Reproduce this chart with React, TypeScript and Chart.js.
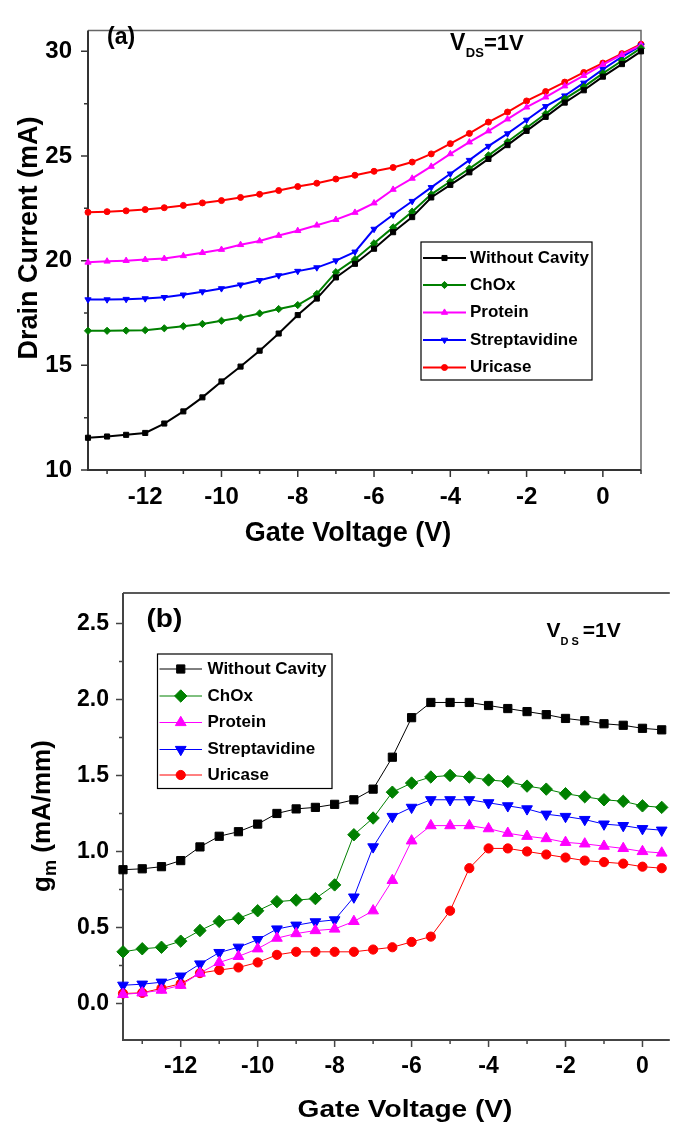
import React, { useEffect, useRef } from 'react';
import { Chart, registerables } from 'chart.js';
import { drawPoint } from 'chart.js/helpers';

Chart.register(...registerables);

const FONT = '"Liberation Sans", Arial, Helvetica, sans-serif';

// ---------- data ----------
const gateVoltageA = [-13.5, -13, -12.5, -12, -11.5, -11, -10.5, -10, -9.5, -9, -8.5, -8, -7.5, -7, -6.5, -6, -5.5, -5, -4.5, -4, -3.5, -3, -2.5, -2, -1.5, -1, -0.5, 0, 0.5, 1];
const gateVoltageB = [-13.5, -13, -12.5, -12, -11.5, -11, -10.5, -10, -9.5, -9, -8.5, -8, -7.5, -7, -6.5, -6, -5.5, -5, -4.5, -4, -3.5, -3, -2.5, -2, -1.5, -1, -0.5, 0, 0.5];

const withoutCavityA = [11.54, 11.6, 11.68, 11.77, 12.22, 12.8, 13.47, 14.23, 14.94, 15.7, 16.52, 17.4, 18.19, 19.2, 19.85, 20.57, 21.36, 22.08, 23.02, 23.62, 24.22, 24.86, 25.52, 26.2, 26.87, 27.55, 28.14, 28.79, 29.39, 30.0];
const chOxA = [16.65, 16.65, 16.66, 16.68, 16.77, 16.87, 16.98, 17.13, 17.28, 17.48, 17.69, 17.88, 18.41, 19.45, 20.07, 20.83, 21.59, 22.34, 23.17, 23.78, 24.4, 25.03, 25.68, 26.35, 27.02, 27.73, 28.3, 28.95, 29.55, 30.15];
const proteinA = [19.92, 19.97, 20.0, 20.05, 20.1, 20.23, 20.38, 20.53, 20.76, 20.94, 21.2, 21.43, 21.69, 21.96, 22.3, 22.75, 23.4, 23.93, 24.5, 25.1, 25.66, 26.19, 26.76, 27.33, 27.81, 28.34, 28.84, 29.37, 29.84, 30.3];
const streptavidineA = [18.14, 18.14, 18.16, 18.19, 18.25, 18.37, 18.52, 18.67, 18.85, 19.06, 19.29, 19.5, 19.67, 20.0, 20.42, 21.51, 22.19, 22.84, 23.5, 24.15, 24.8, 25.47, 26.07, 26.72, 27.37, 27.88, 28.49, 29.14, 29.74, 30.27];
const uricaseA = [22.31, 22.34, 22.38, 22.44, 22.53, 22.64, 22.76, 22.87, 23.02, 23.17, 23.35, 23.54, 23.7, 23.9, 24.08, 24.27, 24.45, 24.71, 25.1, 25.59, 26.08, 26.62, 27.1, 27.63, 28.08, 28.53, 28.99, 29.44, 29.89, 30.34];

const withoutCavityB = [0.88, 0.886, 0.9, 0.94, 1.03, 1.1, 1.13, 1.18, 1.25, 1.28, 1.29, 1.31, 1.34, 1.41, 1.62, 1.88, 1.98, 1.98, 1.98, 1.96, 1.94, 1.92, 1.9, 1.875, 1.86, 1.84, 1.83, 1.81, 1.8];
const chOxB = [0.34, 0.36, 0.37, 0.41, 0.48, 0.54, 0.56, 0.61, 0.67, 0.68, 0.69, 0.78, 1.11, 1.22, 1.39, 1.45, 1.49, 1.5, 1.49, 1.47, 1.46, 1.43, 1.41, 1.38, 1.36, 1.34, 1.33, 1.3, 1.29];
const proteinB = [0.06, 0.07, 0.088, 0.12, 0.2, 0.27, 0.31, 0.36, 0.43, 0.46, 0.48, 0.49, 0.54, 0.61, 0.81, 1.07, 1.17, 1.17, 1.17, 1.15, 1.12, 1.1, 1.085, 1.06, 1.05, 1.035, 1.02, 1.0, 0.99];
const streptavidineB = [0.12, 0.127, 0.14, 0.18, 0.26, 0.335, 0.37, 0.42, 0.49, 0.515, 0.537, 0.55, 0.7, 1.03, 1.23, 1.29, 1.34, 1.34, 1.34, 1.32, 1.3, 1.28, 1.245, 1.23, 1.21, 1.18, 1.17, 1.15, 1.14];
const uricaseB = [0.066, 0.07, 0.1, 0.13, 0.2, 0.22, 0.237, 0.27, 0.32, 0.34, 0.34, 0.34, 0.34, 0.355, 0.37, 0.405, 0.44, 0.61, 0.89, 1.02, 1.02, 1.0, 0.98, 0.96, 0.94, 0.93, 0.92, 0.9, 0.89];

const seriesNames = ['Without Cavity', 'ChOx', 'Protein', 'Streptavidine', 'Uricase'];
const seriesColors = ['#000000', '#008000', '#ff00ff', '#0000ff', '#ff0000'];
const seriesMarkers = ['rect', 'rectRot', 'triangle', 'triangle', 'circle'];
const seriesRotations = [0, 0, 0, 180, 0];

const xTicks = [-12, -10, -8, -6, -4, -2, 0];
const xMinorTicksA = [-13, -11, -9, -7, -5, -3, -1, 1];
const xMinorTicksB = [-13, -11, -9, -7, -5, -3, -1];
const yTicksA = [10, 15, 20, 25, 30];
const yMinorTicksA = [12.5, 17.5, 22.5, 27.5];
const yTicksB = [0, 0.5, 1, 1.5, 2, 2.5];
const yMinorTicksB = [0.25, 0.75, 1.25, 1.75, 2.25];

// ---------- helpers ----------
type LegendBox = {
  left: number; top: number; right: number; bottom: number;
  rowY: number[]; lineX1: number; lineX2: number; textX: number; font: number; lineWidth: number;
};
type Decor = {
  xMajor: number[]; xMinor: number[]; yMajor: number[]; yMinor: number[];
  rightBorder: boolean; majorLen: number; minorLen: number;
  frameColor: string; axisColor: string;
  legend: LegendBox;
  draw: (ctx: CanvasRenderingContext2D) => void;
};

function makeDecor(d: Decor) {
  return {
    id: 'decor',
    beforeDatasetsDraw(chart: any) {
      const { ctx, chartArea: a } = chart;
      const xs = chart.scales.x;
      const ys = chart.scales.y;
      ctx.save();
      ctx.strokeStyle = d.frameColor;
      ctx.lineWidth = 1.5;
      ctx.beginPath();
      ctx.moveTo(a.left, a.top);
      ctx.lineTo(a.right, a.top);
      if (d.rightBorder) ctx.lineTo(a.right, a.bottom);
      ctx.stroke();
      ctx.strokeStyle = d.axisColor;
      ctx.lineWidth = 2;
      ctx.beginPath();
      ctx.moveTo(a.left, a.top);
      ctx.lineTo(a.left, a.bottom);
      ctx.lineTo(a.right, a.bottom);
      ctx.stroke();
      ctx.lineWidth = 1.5;
      ctx.beginPath();
      for (const v of d.xMajor) { const p = xs.getPixelForValue(v); ctx.moveTo(p, a.bottom); ctx.lineTo(p, a.bottom + d.majorLen); }
      for (const v of d.xMinor) { const p = xs.getPixelForValue(v); ctx.moveTo(p, a.bottom); ctx.lineTo(p, a.bottom + d.minorLen); }
      for (const v of d.yMajor) { const p = ys.getPixelForValue(v); ctx.moveTo(a.left, p); ctx.lineTo(a.left - d.majorLen, p); }
      for (const v of d.yMinor) { const p = ys.getPixelForValue(v); ctx.moveTo(a.left, p); ctx.lineTo(a.left - d.minorLen, p); }
      ctx.stroke();
      ctx.restore();
    },
    afterDraw(chart: any) {
      const ctx: CanvasRenderingContext2D = chart.ctx;
      const L = d.legend;
      ctx.save();
      ctx.fillStyle = '#ffffff';
      ctx.fillRect(L.left, L.top, L.right - L.left, L.bottom - L.top);
      ctx.strokeStyle = '#000000';
      ctx.lineWidth = 1.2;
      ctx.strokeRect(L.left, L.top, L.right - L.left, L.bottom - L.top);
      chart.data.datasets.forEach((ds: any, i: number) => {
        const y = L.rowY[i];
        ctx.strokeStyle = ds.borderColor;
        ctx.lineWidth = L.lineWidth;
        ctx.beginPath();
        ctx.moveTo(L.lineX1, y);
        ctx.lineTo(L.lineX2, y);
        ctx.stroke();
        ctx.fillStyle = ds.pointBackgroundColor;
        ctx.strokeStyle = ds.pointBorderColor;
        ctx.lineWidth = 1;
        drawPoint(ctx, { pointStyle: ds.pointStyle, radius: ds.pointRadius, rotation: ds.pointRotation, borderWidth: 1 } as any, (L.lineX1 + L.lineX2) / 2, y);
        ctx.fillStyle = '#000000';
        ctx.font = `bold ${L.font}px ${FONT}`;
        ctx.textAlign = 'left';
        ctx.textBaseline = 'middle';
        ctx.fillText(ds.label, L.textX, y);
      });
      ctx.textBaseline = 'alphabetic';
      d.draw(ctx);
      ctx.restore();
    },
  };
}

function makeDatasets(xs: number[], series: number[][], lineWidth: number, radii: number[]) {
  return series.map((ys, i) => ({
    label: seriesNames[i],
    data: xs.map((x, k) => ({ x, y: ys[k] })),
    borderColor: seriesColors[i],
    backgroundColor: seriesColors[i],
    pointBackgroundColor: seriesColors[i],
    pointBorderColor: seriesColors[i],
    pointStyle: seriesMarkers[i],
    pointRotation: seriesRotations[i],
    pointRadius: radii[i],
    pointHoverRadius: radii[i],
    pointBorderWidth: 1,
    borderWidth: lineWidth,
    tension: 0,
    clip: false,
  }));
}

function axisTicks(size: number, padding: number, fmt: (v: number) => string) {
  return {
    color: '#000000',
    font: { family: FONT, size, weight: 'bold' as const },
    padding,
    autoSkip: false,
    maxRotation: 0,
    minRotation: 0,
    callback: (v: any) => fmt(Number(v)),
  };
}

function drawText(ctx: CanvasRenderingContext2D, text: string, x: number, y: number, size: number, align: CanvasTextAlign = 'left', hscale = 1) {
  ctx.font = `bold ${size}px ${FONT}`;
  ctx.textAlign = align;
  ctx.save();
  ctx.translate(x, y);
  ctx.scale(hscale, 1);
  ctx.fillText(text, 0, 0);
  ctx.restore();
  return ctx.measureText(text).width * hscale;
}

// ---------- charts ----------
function configA() {
  const decor = makeDecor({
    xMajor: xTicks, xMinor: xMinorTicksA, yMajor: yTicksA, yMinor: yMinorTicksA,
    rightBorder: true, majorLen: 7, minorLen: 4,
    frameColor: '#666666', axisColor: '#333333',
    legend: { left: 421, top: 242, right: 592, bottom: 380, rowY: [258, 285, 312.5, 340, 367.5], lineX1: 423, lineX2: 466, textX: 470, font: 17, lineWidth: 2 },
    draw: (ctx) => {
      ctx.fillStyle = '#000000';
      drawText(ctx, 'Gate Voltage (V)', 348, 541, 27, 'center');
      ctx.save();
      ctx.translate(36.5, 238);
      ctx.rotate(-Math.PI / 2);
      drawText(ctx, 'Drain Current (mA)', 0, 0, 27, 'center');
      ctx.restore();
      drawText(ctx, '(a)', 107, 43.5, 23);
      let x = 450;
      x += drawText(ctx, 'V', x, 50, 23);
      x += drawText(ctx, 'DS', x + 0.5, 57, 13) + 0.5;
      drawText(ctx, '=1V', x, 50, 22);
    },
  });
  return {
    type: 'line' as const,
    data: { datasets: makeDatasets(gateVoltageA, [withoutCavityA, chOxA, proteinA, streptavidineA, uricaseA], 2, [3.6, 3.6, 3.6, 3.6, 3]) },
    options: {
      animation: false as const,
      responsive: false,
      devicePixelRatio: 1,
      events: [],
      layout: { padding: { left: 0, top: 7, right: 36, bottom: 0 } },
      plugins: { legend: { display: false }, tooltip: { enabled: false } },
      scales: {
        x: {
          type: 'linear' as const, min: -13.5, max: 1,
          afterBuildTicks: (s: any) => { s.ticks = xTicks.map((v) => ({ value: v })); },
          afterFit: (s: any) => { s.height = 90; },
          grid: { display: false, drawTicks: false },
          border: { display: false },
          ticks: axisTicks(24, 13, (v) => String(v)),
        },
        y: {
          type: 'linear' as const, min: 10, max: 31,
          afterBuildTicks: (s: any) => { s.ticks = yTicksA.map((v) => ({ value: v })); },
          afterFit: (s: any) => { s.width = 88; },
          grid: { display: false, drawTicks: false },
          border: { display: false },
          ticks: axisTicks(24, 16, (v) => String(v)),
        },
      },
    },
    plugins: [decor],
  };
}

function configB() {
  const decor = makeDecor({
    xMajor: xTicks, xMinor: xMinorTicksB, yMajor: yTicksB, yMinor: yMinorTicksB,
    rightBorder: false, majorLen: 7, minorLen: 4,
    frameColor: '#222222', axisColor: '#444444',
    legend: { left: 157.5, top: 94, right: 332, bottom: 228.5, rowY: [109, 136, 162.5, 189.5, 215], lineX1: 159.5, lineX2: 202, textX: 207.5, font: 17, lineWidth: 1 },
    draw: (ctx) => {
      ctx.fillStyle = '#000000';
      drawText(ctx, 'Gate Voltage (V)', 405, 557, 24, 'center', 1.17);
      ctx.save();
      ctx.translate(50, 256);
      ctx.rotate(-Math.PI / 2);
      ctx.font = `bold 26px ${FONT}`;
      const wg = ctx.measureText('g').width;
      const rest = ' (mA/mm)';
      const wr = ctx.measureText(rest).width;
      ctx.font = `bold 18px ${FONT}`;
      const wm = ctx.measureText('m').width;
      const start = -(wg + wm + wr) / 2;
      drawText(ctx, 'g', start, 0, 26);
      drawText(ctx, 'm', start + wg, 6, 18);
      drawText(ctx, rest, start + wg + wm, 0, 26);
      ctx.restore();
      drawText(ctx, '(b)', 146.5, 66.5, 26, 'left', 1.08);
      let x = 546.5;
      x += drawText(ctx, 'V', x, 76.7, 21);
      ctx.save();
      (ctx as any).letterSpacing = '3px';
      const wds = drawText(ctx, 'DS', x, 85, 11);
      ctx.restore();
      x += wds + 1;
      drawText(ctx, '=1V', x, 76.7, 21);
    },
  });
  return {
    type: 'line' as const,
    data: { datasets: makeDatasets(gateVoltageB, [withoutCavityB, chOxB, proteinB, streptavidineB, uricaseB], 1, [5.8, 6.2, 6.2, 6.2, 4.6]) },
    options: {
      animation: false as const,
      responsive: false,
      devicePixelRatio: 1,
      events: [],
      layout: { padding: { left: 0, top: 33, right: 0, bottom: 0 } },
      plugins: { legend: { display: false }, tooltip: { enabled: false } },
      scales: {
        x: {
          type: 'linear' as const, min: -13.5, max: 0.71,
          afterBuildTicks: (s: any) => { s.ticks = xTicks.map((v) => ({ value: v })); },
          afterFit: (s: any) => { s.height = 86; },
          grid: { display: false, drawTicks: false },
          border: { display: false },
          ticks: axisTicks(23, 13, (v) => String(v)),
        },
        y: {
          type: 'linear' as const, min: -0.24, max: 2.7,
          afterBuildTicks: (s: any) => { s.ticks = yTicksB.map((v) => ({ value: v })); },
          afterFit: (s: any) => { s.width = 123; },
          grid: { display: false, drawTicks: false },
          border: { display: false },
          ticks: axisTicks(23, 14, (v) => v.toFixed(1)),
        },
      },
    },
    plugins: [decor],
  };
}

function ChartCanvas({ make, width, height, top }: { make: () => any; width: number; height: number; top: number }) {
  const ref = useRef<HTMLCanvasElement | null>(null);
  useEffect(() => {
    if (!ref.current) return;
    const chart = new Chart(ref.current, make());
    return () => chart.destroy();
  }, [make]);
  return (
    <canvas
      ref={ref}
      width={width}
      height={height}
      style={{ position: 'absolute', left: 0, top, width, height, display: 'block' }}
    />
  );
}

export default function App() {
  useEffect(() => {
    document.body.style.margin = '0';
    document.body.style.overflow = 'hidden';
    document.body.style.background = '#ffffff';
  }, []);
  return (
    <div style={{ position: 'relative', width: 677, height: 1126, background: '#ffffff', overflow: 'hidden' }}>
      <ChartCanvas make={configA} width={677} height={560} top={0} />
      <ChartCanvas make={configB} width={677} height={566} top={560} />
    </div>
  );
}
